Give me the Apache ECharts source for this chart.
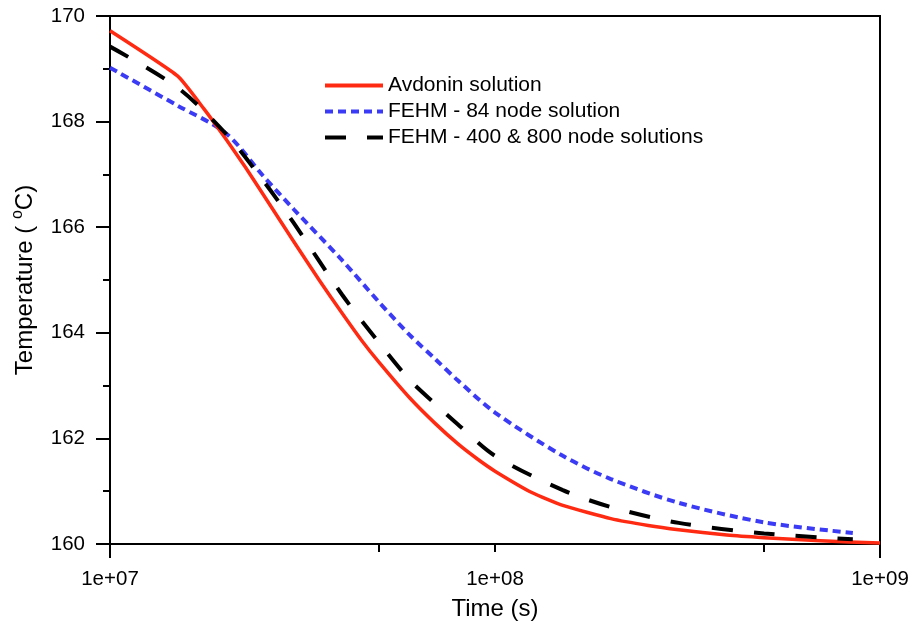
<!DOCTYPE html>
<html>
<head>
<meta charset="utf-8">
<script src="https://cdn.jsdelivr.net/npm/echarts@6/dist/echarts.min.js"></script>
<style>
html,body{margin:0;padding:0;background:#fff;}
#chart{width:915px;height:632px;}
</style>
</head>
<body>
<div id="chart"></div>
<script>
// Time values (s)
const timesRed = [1e7, 1.5e7, 1.75e7, 2e7, 2.25e7, 2.5e7, 3e7, 3.5e7, 4e7, 4.5e7, 5e7, 6e7, 7e7, 8e7, 9e7, 1e8, 1.25e8, 1.5e8, 2e8, 2.5e8, 3e8, 4e8, 5e8, 7e8, 1e9];
const avdonin  = [169.72, 168.86, 168.25, 167.67, 167.13, 166.62, 165.73, 164.99, 164.38, 163.86, 163.44, 162.77, 162.28, 161.90, 161.61, 161.38, 160.97, 160.73, 160.48, 160.35, 160.27, 160.17, 160.12, 160.06, 160.02];

const timesFehm = [1e7, 1.5e7, 2e7, 2.5e7, 3e7, 4e7, 5e7, 6e7, 7e7, 8e7, 1e8, 1.5e8, 2e8, 3e8, 5e8, 8.5e8];
const fehm84   = [169.02, 168.30, 167.78, 166.97, 166.34, 165.38, 164.58, 163.96, 163.50, 163.10, 162.49, 161.67, 161.23, 160.78, 160.41, 160.21];
const fehm400  = [169.42, 168.64, 167.77, 166.88, 166.08, 164.73, 163.81, 163.11, 162.65, 162.27, 161.67, 161.02, 160.70, 160.40, 160.20, 160.09];

const seriesNames = ['Avdonin solution', 'FEHM - 84 node solution', 'FEHM - 400 & 800 node solutions'];
const xMajorTicks = [1e7, 1e9];
const xMinorTicks = [5e7, 1e8, 5e8];
const xLabelValues = [1e7, 1e8, 1e9];
const xLabels = ['1e+07', '1e+08', '1e+09'];

function pairs(ts, vs){ return ts.map((t,i)=>[t, vs[i]]); }

const chart = echarts.init(document.getElementById('chart'), null, {renderer:'canvas'});
const font = 'Liberation Sans, Arial, sans-serif';
chart.setOption({
  animation: false,
  textStyle: {fontFamily: font},
  grid: {left: 110, top: 16, right: 35, bottom: 88, show: true, borderColor: '#000', borderWidth: 2, backgroundColor: 'transparent'},
  legend: {
    data: seriesNames,
    orient: 'vertical',
    left: 318, top: 70,
    itemWidth: 58, itemHeight: 14, itemGap: 5,
    itemStyle: {opacity: 0},
    lineStyle: {width: 4},
    textStyle: {fontSize: 21, color: '#000', fontFamily: font}
  },
  xAxis: [{
    type: 'log', logBase: 10, min: 1e7, max: 1e9,
    name: 'Time (s)', nameLocation: 'middle', nameGap: 53,
    nameTextStyle: {fontSize: 24, color: '#000', fontFamily: font},
    axisLine: {show: true, lineStyle: {color: '#000', width: 2}},
    axisTick: {show: true, length: 14, customValues: xMajorTicks, lineStyle: {color: '#000', width: 2}},
    axisLabel: {fontSize: 20.5, color: '#000', margin: 25, fontFamily: font,
      customValues: xLabelValues,
      formatter: function(v){ const e = Math.round(Math.log10(v)); return xLabels[e-7]; }},
    splitLine: {show: false}, minorTick: {show: false}
  },{
    type: 'log', logBase: 10, min: 1e7, max: 1e9, position: 'bottom',
    axisLine: {show: false},
    axisTick: {show: true, length: 8, customValues: xMinorTicks, lineStyle: {color: '#000', width: 2}},
    axisLabel: {show: false},
    splitLine: {show: false}
  }],
  yAxis: {
    type: 'value', min: 160, max: 170, interval: 2,
    name: 'Temperature ( {sup|o}C)', nameLocation: 'middle', nameGap: 65,
    nameTextStyle: {fontSize: 24, color: '#000', fontFamily: font, lineHeight: 30,
      rich: {sup: {fontSize: 16, color: '#000', verticalAlign: 'top', lineHeight: 30, fontFamily: font}}},
    axisLine: {show: true, lineStyle: {color: '#000', width: 2}},
    axisTick: {show: true, length: 14, lineStyle: {color: '#000', width: 2}},
    minorTick: {show: true, splitNumber: 2, length: 7, lineStyle: {color: '#000', width: 2}},
    axisLabel: {fontSize: 20.5, color: '#000', margin: 25, fontFamily: font},
    splitLine: {show: false}, minorSplitLine: {show: false}
  },
  series: [{
    name: seriesNames[0], type: 'line', data: pairs(timesRed, avdonin), symbol: 'none', smooth: 0.15,
    lineStyle: {color: '#ff2a12', width: 3.5, join: 'round'}, itemStyle: {color: '#ff2a12'}, z: 3
  },{
    name: seriesNames[1], type: 'line', data: pairs(timesFehm, fehm84), symbol: 'none', smooth: 0.3,
    lineStyle: {color: '#3b3bf5', width: 4, type: [8,5]}, itemStyle: {color: '#3b3bf5'}, z: 2
  },{
    name: seriesNames[2], type: 'line', data: pairs(timesFehm, fehm400), symbol: 'none', smooth: 0.3,
    lineStyle: {color: '#000', width: 4, type: [21,21]}, itemStyle: {color: '#000'}, z: 4
  }]
});
</script>
</body>
</html>
